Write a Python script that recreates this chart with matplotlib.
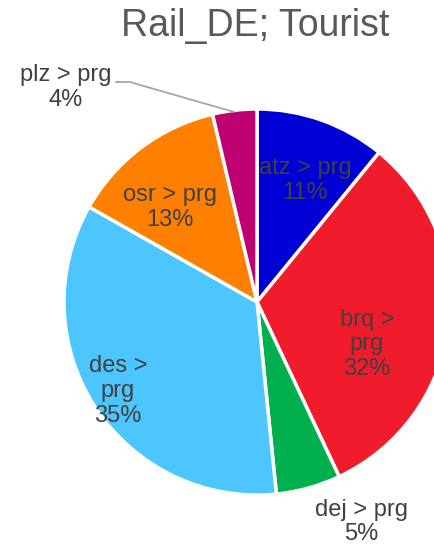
import matplotlib
matplotlib.use("Agg")
import matplotlib.pyplot as plt

plt.rcParams['font.family'] = ['Liberation Sans', 'DejaVu Sans']

labels = ["atz > prg", "brq >\nprg", "dej > prg", "des >\nprg", "osr > prg", "plz > prg"]
values = [10.9, 32.1, 5.4, 34.8, 13.1, 3.7]
colors = ["#0000D4", "#F01C2C", "#00B04F", "#4DC6FF", "#FF7F00", "#BE0070"]
# label centres in axes data units (pie radius = 1)
label_pos = [(0.25, 0.63), (0.57, -0.22), (0.54, -1.14),
             (-0.72, -0.46), (-0.45, 0.49), (-0.99, 1.11)]

fig = plt.figure(figsize=(4.34, 5.47), dpi=100)
ax = fig.add_axes([64 / 434, 52 / 547, 386 / 434, 386 / 547])

wedges, texts = ax.pie(values, colors=colors, startangle=90, counterclock=False,
                       radius=1, wedgeprops=dict(edgecolor='white', linewidth=2.5))
ax.set_xlim(-1, 1)
ax.set_ylim(-1, 1)
ax.set_aspect('equal')
ax.axis('off')

for lab, v, (x, y) in zip(labels, values, label_pos):
    ax.text(x, y, "%s\n%d%%" % (lab, round(v)), ha='center', va='center',
            fontsize=17, color='#404040', linespacing=1.17, clip_on=False)

# leader line for the small slice
ax.plot([-0.73, -0.66, -0.12], [1.14, 1.14, 0.985], color='#A6A6A6',
        linewidth=1.3, clip_on=False)

fig.text(255 / 434, 1 - 26 / 547, "Rail_DE; Tourist", ha='center', va='center',
         fontsize=27, color='#595959')

fig.savefig("out.png", dpi=100)
